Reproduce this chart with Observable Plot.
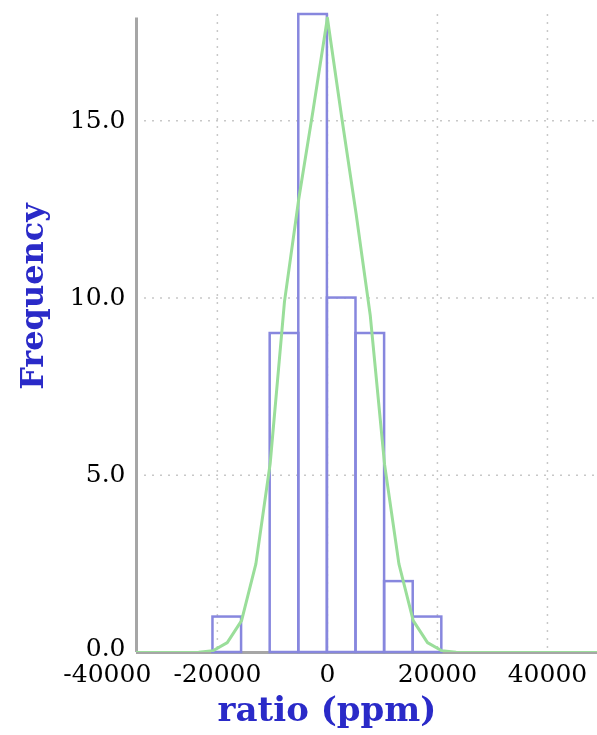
<!DOCTYPE html>
<html>
<head>
<meta charset="utf-8">
<script src="https://cdn.jsdelivr.net/npm/d3@7"></script>
<script src="https://cdn.jsdelivr.net/npm/@observablehq/plot@0.6"></script>
<style>
  html, body { margin: 0; padding: 0; background: #fff; }
</style>
</head>
<body>
<div id="chart"></div>
<script>
// Histogram of ratio deviations (ppm), bin edges and counts
const binEdges = [-20800, -15600, -10400, -5200, 0, 5200, 10400, 15600, 20800];
const binCounts = [1, 0, 9, 18, 10, 9, 2, 1];

// Fitted normal curve, sampled every half bin
const curveX = [-36400, -31200, -26000, -23400, -20800, -18200, -15600, -13000, -10400, -7800, -5200, -2600,
                0, 2600, 5200, 7800, 10400, 13000, 15600, 18200, 20800, 23400, 26000, 31200, 36400, 41600, 46800, 52000];
const curveY = [0, 0, 0, 0.01, 0.05, 0.28, 0.9, 2.5, 5.33, 9.9, 12.8, 15.3,
                17.9, 15.1, 12.4, 9.5, 5.3, 2.5, 0.9, 0.28, 0.05, 0.01, 0, 0, 0, 0, 0, 0];

// Axes
const xDomain = [-34700, 49100];
const yDomain = [0, 18];
const xTicks = [-40000, -20000, 0, 20000, 40000];
const yTicks = [0, 5, 10, 15];
const xLabel = "ratio (ppm)";
const yLabel = "Frequency";

const bins = binCounts.map((c, i) => ({x1: binEdges[i], x2: binEdges[i + 1], count: c}));
const curve = curveX.map((x, i) => ({x, y: curveY[i]}));

const purple = "#8787de";
const green = "#9ade9a";
const grid = "#c8c8c8";
const axisGray = "#a6a6a6";
const labelBlue = "#2a2ac8";
const serif = "'DejaVu Serif', serif";

// y tick labels; the one at the origin sits a little higher to clear the x labels
const yTickText = (ticks, dy) => Plot.text(ticks, {
  y: d => d, text: d3.format(".1f"), frameAnchor: "left",
  textAnchor: "end", lineAnchor: "middle", dx: -11, dy,
  fill: "#000", fontFamily: serif, fontSize: 25
});

const chart = Plot.plot({
  width: 597,
  height: 735,
  marginLeft: 136,
  marginRight: 0,
  marginTop: 14,
  marginBottom: 83,
  style: {fontFamily: serif, fontSize: "25px", color: "#000", background: "#fff"},
  x: {
    domain: xDomain,
    ticks: xTicks,
    tickFormat: d => String(d),
    tickSize: 0,
    tickPadding: 12,
    label: null
  },
  y: {
    domain: yDomain,
    axis: null
  },
  marks: [
    // dotted grid
    Plot.ruleY(yTicks.filter(t => t > 0), {stroke: grid, strokeWidth: 1.5, strokeDasharray: "2,6"}),
    Plot.ruleX(xTicks.filter(t => t >= xDomain[0] && t <= xDomain[1]), {stroke: grid, strokeWidth: 1.5, strokeDasharray: "2,6"}),
    // axis lines
    Plot.ruleY([0], {stroke: axisGray, strokeWidth: 3}),
    Plot.ruleX([xDomain[0]], {y1: yDomain[0], y2: 17.9, stroke: axisGray, strokeWidth: 3}),
    // y tick labels
    yTickText(yTicks.filter(t => t > 0), -1),
    yTickText(yTicks.filter(t => t === 0), -5),
    // histogram outlines
    Plot.rectY(bins, {x1: "x1", x2: "x2", y: "count", fill: "none", stroke: purple, strokeWidth: 2.5}),
    // fitted curve
    Plot.line(curve, {x: "x", y: "y", stroke: green, strokeWidth: 3, clip: true, mixBlendMode: "multiply"}),
    // axis titles
    Plot.text([yLabel], {
      text: d => d, frameAnchor: "left", textAnchor: "middle", lineAnchor: "middle",
      rotate: -90, dx: -104, dy: -37,
      fill: labelBlue, fontFamily: serif, fontWeight: "bold", fontSize: 32
    }),
    Plot.text([xLabel], {
      text: d => d, frameAnchor: "bottom", textAnchor: "middle", lineAnchor: "middle",
      dx: -40, dy: 58,
      fill: labelBlue, fontFamily: serif, fontWeight: "bold", fontSize: 34
    })
  ]
});

document.getElementById("chart").appendChild(chart);
</script>
</body>
</html>
